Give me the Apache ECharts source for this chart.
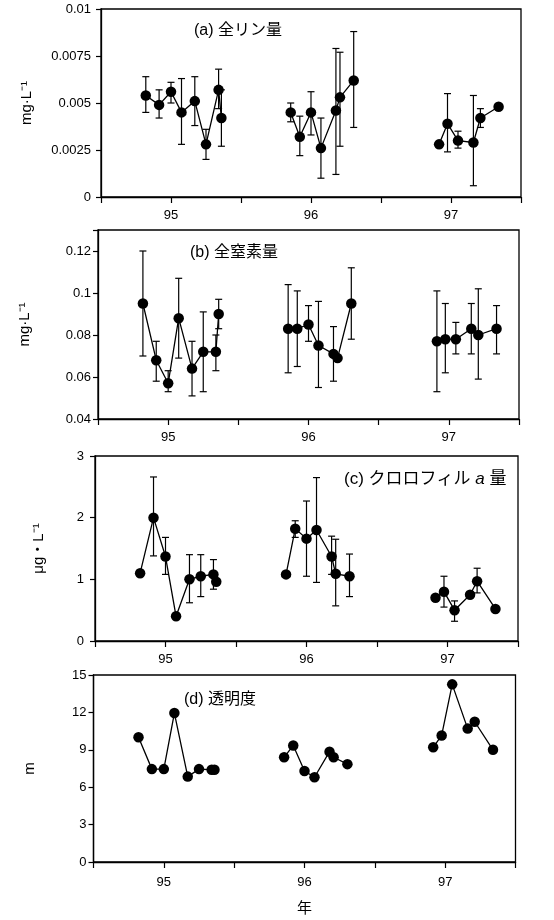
<!DOCTYPE html>
<html><head><meta charset="utf-8">
<script src="https://cdn.jsdelivr.net/npm/echarts@6/dist/echarts.min.js"></script>
<style>html,body{margin:0;padding:0;background:#fff}#c{width:554px;height:920px}</style>
</head><body><div id="c"></div>
<script>
// sampling dates (year, decimal) for each season
const dates95 = [94.82, 94.915, 95.0, 95.075, 95.17, 95.25, 95.34, 95.36];
const dates96 = [95.855, 95.92, 96.0, 96.071, 96.178, 96.207, 96.305];
const dates97 = [96.915, 96.975, 97.05, 97.16, 97.21, 97.34];
const yearLabels = {95: '95', 96: '96', 97: '97'};

// (a) total phosphorus
const tp95 = [0.0054, 0.0049, 0.0056, 0.0045, 0.0051, 0.0028, 0.0057, 0.0042];
const tp95Hi = [0.0064, 0.0057, 0.0061, 0.0063, 0.0064, 0.0036, 0.0068, 0.0057];
const tp95Lo = [0.0045, 0.0042, 0.0050, 0.0028, 0.0038, 0.0020, 0.0047, 0.0027];
const tp96 = [0.0045, 0.0032, 0.0045, 0.0026, 0.0046, 0.0053, 0.0062];
const tp96Hi = [0.0050, 0.0043, 0.0056, 0.0042, 0.0079, 0.0077, 0.0088];
const tp96Lo = [0.0040, 0.0022, 0.0033, 0.0010, 0.0012, 0.0027, 0.0037];
const tp97 = [0.0028, 0.0039, 0.0030, 0.0029, 0.0042, 0.0048];
const tp97Hi = [null, 0.0055, 0.0035, 0.0054, 0.0047, null];
const tp97Lo = [null, 0.0024, 0.0026, 0.0006, 0.0037, null];

// (b) total nitrogen
const tn95 = [0.095, 0.068, 0.057, 0.088, 0.064, 0.072, 0.072, 0.090];
const tn95Hi = [0.120, 0.077, 0.063, 0.107, 0.077, 0.091, 0.080, 0.097];
const tn95Lo = [0.070, 0.058, 0.053, 0.069, 0.051, 0.053, 0.063, 0.083];
const tn96 = [0.083, 0.083, 0.085, 0.075, 0.071, 0.069, 0.095];
const tn96Hi = [0.104, 0.101, 0.094, 0.096, 0.084, null, 0.112];
const tn96Lo = [0.062, 0.065, 0.077, 0.055, 0.058, null, 0.078];
const tn97 = [0.077, 0.078, 0.078, 0.083, 0.080, 0.083];
const tn97Hi = [0.101, 0.095, 0.086, 0.095, 0.102, 0.094];
const tn97Lo = [0.053, 0.062, 0.071, 0.071, 0.059, 0.071];

// (c) chlorophyll a
const ch95 = [1.10, 2.00, 1.37, 0.40, 1.00, 1.05, 1.08, 0.96];
const ch95Hi = [null, 2.66, 1.68, null, 1.40, 1.40, 1.32, null];
const ch95Lo = [null, 1.38, 1.08, null, 0.62, 0.72, 0.84, null];
const ch96 = [1.08, 1.82, 1.66, 1.80, 1.37, 1.09, 1.05];
const ch96Hi = [null, 1.95, 2.27, 2.65, 1.70, 1.65, 1.41];
const ch96Lo = [null, 1.68, 1.05, 0.95, 1.08, 0.57, 0.72];
const ch97 = [0.70, 0.80, 0.50, 0.75, 0.97, 0.52];
const ch97Hi = [null, 1.05, 0.65, null, 1.18, null];
const ch97Lo = [null, 0.55, 0.32, null, 0.78, null];

// (d) transparency
const sd95 = [10.0, 7.45, 7.45, 11.95, 6.85, 7.45, 7.4, 7.4];
const sd96 = [8.4, 9.35, 7.3, 6.8, 8.85, 8.4, 7.85];
const sd97 = [9.2, 10.15, 14.25, 10.7, 11.25, 9.0];

const FONT = "'Liberation Sans', Arial, 'Noto Sans CJK JP', sans-serif";
const JFONT = "'Liberation Sans', 'Noto Sans CJK JP', sans-serif";

const panels = [
  {grid:{left:101, top:9, width:420, height:188}, min:0, max:0.01, interval:0.0025,
   yName:'mg·L⁻¹', nameGap:67, labelMargin:10,
   groups:[[dates95,tp95,tp95Hi,tp95Lo],[dates96,tp96,tp96Hi,tp96Lo],[dates97,tp97,tp97Hi,tp97Lo]],
   fmt: v => String(+v.toFixed(4))},
  {grid:{left:98, top:230, width:421, height:189}, min:0.04, max:0.13, interval:0.02,
   yName:'mg·L⁻¹', nameGap:66, labelMargin:7,
   groups:[[dates95,tn95,tn95Hi,tn95Lo],[dates96,tn96,tn96Hi,tn96Lo],[dates97,tn97,tn97Hi,tn97Lo]],
   fmt: v => (v > 0.125 ? '' : String(+v.toFixed(2)))},
  {grid:{left:95, top:456, width:423, height:185}, min:0, max:3, interval:1,
   yName:'μg・L⁻¹', nameGap:49, labelMargin:11,
   groups:[[dates95,ch95,ch95Hi,ch95Lo],[dates96,ch96,ch96Hi,ch96Lo],[dates97,ch97,ch97Hi,ch97Lo]],
   fmt: v => String(v)},
  {grid:{left:93.5, top:675, width:422, height:187}, min:0, max:15, interval:3,
   yName:'m', nameGap:56, labelMargin:7,
   groups:[[dates95,sd95],[dates96,sd96],[dates97,sd97]],
   fmt: v => String(v)}
];

function renderErr(params, api) {
  const x = api.value(0), lo = api.value(1), hi = api.value(2);
  const a = api.coord([x, hi]), b = api.coord([x, lo]);
  const w = 3.5;
  const style = {stroke:'#000', lineWidth:1.2};
  return {type:'group', children:[
    {type:'line', shape:{x1:a[0], y1:a[1], x2:b[0], y2:b[1]}, style},
    {type:'line', shape:{x1:a[0]-w, y1:a[1], x2:a[0]+w, y2:a[1]}, style},
    {type:'line', shape:{x1:b[0]-w, y1:b[1], x2:b[0]+w, y2:b[1]}, style}
  ]};
}

const grid = [], xAxis = [], yAxis = [], series = [];
panels.forEach((p, i) => {
  grid.push(Object.assign({show:true, borderColor:'#000', borderWidth:1.3, backgroundColor:'transparent'}, p.grid));
  xAxis.push({
    type:'value', gridIndex:i, min:94.5, max:97.5, interval:0.5,
    axisLine:{onZero:false, lineStyle:{color:'#000', width:1.3}},
    axisTick:{show:true, length:6, lineStyle:{color:'#000', width:1.2}},
    splitLine:{show:false},
    axisLabel:{color:'#000', fontSize:13, fontFamily:FONT, margin:i === 3 ? 14 : 12,
      formatter: v => (Number.isInteger(v) && yearLabels[v]) ? yearLabels[v] : ''},
    name: i === 3 ? '年' : '', nameLocation:'middle', nameGap:39,
    nameTextStyle:{color:'#000', fontSize:15, fontFamily:JFONT}
  });
  yAxis.push({
    type:'value', gridIndex:i, min:p.min, max:p.max, interval:p.interval,
    axisLine:{show:true, lineStyle:{color:'#000', width:1.3}},
    axisTick:{show:true, length:5, lineStyle:{color:'#000', width:1.2}},
    splitLine:{show:false},
    axisLabel:{color:'#000', fontSize:13, fontFamily:FONT, margin:p.labelMargin, formatter:p.fmt},
    name:p.yName, nameLocation:'middle', nameRotate:90, nameGap:p.nameGap,
    nameTextStyle:{color:'#000', fontSize:15, fontFamily:FONT}
  });
  p.groups.forEach(g => {
    const [dates, vals, hi, lo] = g;
    if (hi) {
      const errData = [];
      dates.forEach((d, k) => { if (hi[k] != null && lo[k] != null) errData.push([d, lo[k], hi[k]]); });
      series.push({type:'custom', xAxisIndex:i, yAxisIndex:i, renderItem:renderErr,
        encode:{x:0, y:[1,2]}, data:errData, z:2, silent:true, clip:false});
    }
    series.push({type:'line', xAxisIndex:i, yAxisIndex:i, data:dates.map((d,k)=>[d, vals[k]]),
      symbol:'circle', symbolSize:10.5, showSymbol:true,
      itemStyle:{color:'#000'}, lineStyle:{color:'#000', width:1.3}, z:3, silent:true, animation:false});
  });
});

const titleStyle = {fill:'#000', font:"16px " + JFONT};
const graphic = [
  {type:'text', left:194, top:23, style:Object.assign({text:'(a) 全リン量'}, titleStyle)},
  {type:'text', left:190, top:245, style:Object.assign({text:'(b) 全窒素量'}, titleStyle)},
  {type:'text', left:344, top:471, style:{text:'{n|(c) クロロフィル }{i|a}{n| 量}', fill:'#000',
    rich:{n:{fontSize:17, fontFamily:JFONT, fill:'#000'}, i:{fontSize:17, fontStyle:'italic', fontFamily:FONT, fill:'#000'}}}},
  {type:'text', left:184, top:692, style:Object.assign({text:'(d) 透明度'}, titleStyle)}
];

const chart = echarts.init(document.getElementById('c'), null, {renderer:'canvas'});
chart.setOption({animation:false, backgroundColor:'#fff', grid, xAxis, yAxis, series, graphic});
</script>
</body></html>
